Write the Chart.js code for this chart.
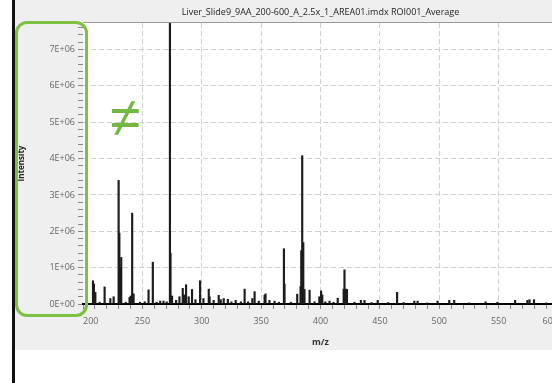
<!DOCTYPE html>
<html>
<head>
<meta charset="utf-8">
<script src="https://cdn.jsdelivr.net/npm/chart.js@4"></script>
<style>
  html, body { margin: 0; padding: 0; overflow: hidden; background: #ffffff; width: 552px; height: 383px; }
  #panel { position: absolute; left: 15px; top: 0; width: 560px; height: 350px; background: #efefef; }
  #edge { position: absolute; left: 12px; top: 0; width: 3px; height: 383px; background: #111; }
  #wrap { position: absolute; left: 0; top: 0; width: 575px; height: 350px; }
  #box { position: absolute; left: 15px; top: 21px; width: 73px; height: 296px; box-sizing: border-box;
         border: 3px solid #7dc142; border-radius: 12px; }
  #neq { position: absolute; left: 110px; top: 87px; font-family: 'Liberation Sans', sans-serif; font-size: 55px;
         line-height: 60px; color: #72b843; }
</style>
</head>
<body>
<div id="panel"></div>
<div id="edge"></div>
<div id="wrap"><canvas id="c"></canvas></div>
<div id="box"></div>
<div id="neq">≠</div>
<script>
const chartTitle = 'Liver_Slide9_9AA_200-600_A_2.5x_1_AREA01.imdx ROI001_Average';
const xTitle = 'm/z';
const yTitle = 'Intensity';

// peak m/z positions
const peakMz = [
  208.4, 209.2, 210.4, 214.0, 218.2, 223.0, 225.8, 230.0, 230.6, 231.2, 232.2, 236.0,
  239.2, 240.2, 241.4, 242.6, 248.0, 252.0, 255.2, 258.8, 262.0, 265.0, 267.8, 270.5,
  273.2, 273.7, 275.0, 278.4, 281.2, 284.0, 285.0, 286.8, 289.0, 291.8, 294.7, 298.6,
  301.4, 305.9, 306.6, 310.0, 314.3, 316.0, 318.5, 322.0, 325.0, 328.6, 333.0, 336.1,
  339.0, 342.6, 344.5, 348.0, 352.9, 353.7, 357.0, 361.3, 365.0, 369.2, 369.7, 375.0,
  380.4, 383.2, 383.8, 384.6, 385.5, 386.5, 390.8, 395.0, 399.0, 400.5, 401.5, 404.0,
  407.6, 411.0, 414.5, 419.5, 420.2, 421.5, 422.3, 428.6, 434.0, 437.0, 443.0, 448.2,
  457.0, 464.5, 470.0, 479.0, 481.8, 490.0, 498.6, 508.4, 512.6, 525.0, 539.0, 549.0,
  563.9, 574.2, 576.0, 579.8, 590.0
];
// peak intensities (millions)
const peakIntensityM = [
  0.64, 0.55, 0.32, 0.05, 0.47, 0.15, 0.20, 3.40, 1.95, 1.00, 1.28, 0.05,
  0.18, 0.22, 2.50, 0.28, 0.05, 0.06, 0.39, 1.15, 0.05, 0.08, 0.08, 0.06,
  9.00, 1.40, 0.22, 0.10, 0.20, 0.43, 0.25, 0.53, 0.20, 0.40, 0.12, 0.64,
  0.15, 0.41, 0.20, 0.10, 0.24, 0.12, 0.15, 0.13, 0.06, 0.10, 0.06, 0.41,
  0.06, 0.15, 0.34, 0.08, 0.24, 0.28, 0.10, 0.08, 0.05, 1.52, 0.55, 0.05,
  0.27, 0.48, 1.47, 4.08, 1.69, 0.40, 0.38, 0.06, 0.20, 0.36, 0.25, 0.06,
  0.08, 0.05, 0.16, 0.41, 0.94, 0.41, 0.40, 0.05, 0.10, 0.10, 0.04, 0.10,
  0.04, 0.32, 0.04, 0.08, 0.08, 0.03, 0.08, 0.10, 0.10, 0.03, 0.06, 0.05,
  0.10, 0.10, 0.12, 0.12, 0.03
];

// axis ranges and tick spacing (minor ticks, labelled every Nth)
const xMin = 200, xMax = 600, xStep = 10, xLabelEvery = 5;
const yMin = 0, yMax = 7.73e6, yStep = 2e5, yLabelEvery = 5;

const xTickValues = [];
for (let k = 0; xMin + k * xStep <= xMax; k++) xTickValues.push(xMin + k * xStep);
const yTickValues = [];
for (let k = 0; yMin + k * yStep <= yMax; k++) yTickValues.push(yMin + k * yStep);

const points = peakMz.map((x, i) => ({ x: x, y: peakIntensityM[i] * 1e6 }));

const plotBg = {
  id: 'plotBg',
  beforeDraw(chart) {
    const { ctx, chartArea: a } = chart;
    ctx.save();
    ctx.fillStyle = '#ffffff';
    ctx.fillRect(a.left, a.top, a.right - a.left, a.bottom - a.top);
    ctx.strokeStyle = '#9a9a9a';
    ctx.lineWidth = 1;
    ctx.beginPath();
    ctx.moveTo(a.left, a.top - 0.5);
    ctx.lineTo(chart.width, a.top - 0.5);
    ctx.stroke();
    ctx.restore();
  }
};

const tickIndex = (ctx, vals) => ctx.tick ? vals.indexOf(ctx.tick.value) : -1;

Chart.defaults.font.family = "'Open Sans', 'Noto Sans', sans-serif";

new Chart(document.getElementById('c'), {
  type: 'bar',
  data: {
    datasets: [{
      data: points,
      backgroundColor: '#1c1c1c',
      borderWidth: 0,
      barThickness: 1.5
    }]
  },
  options: {
    responsive: true,
    maintainAspectRatio: false,
    animation: false,
    layout: { padding: { left: 0, right: 17, top: 0, bottom: 0 } },
    plugins: {
      legend: { display: false },
      tooltip: { enabled: false },
      title: {
        display: true,
        text: chartTitle,
        fullSize: false,
        color: '#222',
        font: { size: 9, weight: 'normal', lineHeight: 1.2 },
        padding: { top: 7, bottom: 5.2 }
      }
    },
    scales: {
      x: {
        type: 'linear',
        offset: false,
        min: xMin, max: xMax,
        afterFit(s) { s.height = 46; },
        afterBuildTicks(s) { s.ticks = xTickValues.map(v => ({ value: v })); },
        ticks: {
          autoSkip: false,
          maxRotation: 0,
          align: 'inner',
          color: '#666',
          padding: 7,
          font: { size: 9 },
          callback: (v, i) => (i % xLabelEvery === 0) ? String(xTickValues[i]) : ''
        },
        grid: {
          offset: false,
          color: c => { const i = tickIndex(c, xTickValues); return (i > 0 && i % xLabelEvery === 0) ? '#d0d0d0' : 'rgba(0,0,0,0)'; },
          tickColor: '#888',
          tickLength: 5,
          lineWidth: 1
        },
        border: { display: true, color: '#000', width: 2, dash: [5, 3] },
        title: {
          display: true,
          text: xTitle,
          color: '#333',
          font: { size: 9, weight: 'bold', lineHeight: 1.2 },
          padding: { top: 0, bottom: 2 }
        }
      },
      y: {
        min: yMin, max: yMax,
        afterFit(s) { s.width = 83; },
        afterBuildTicks(s) { s.ticks = yTickValues.map(v => ({ value: v })); },
        ticks: {
          autoSkip: false,
          color: '#666',
          padding: 3,
          font: { size: 9 },
          callback: (v, i) => {
            if (i % yLabelEvery !== 0) return '';
            const n = Math.round(yTickValues[i] / 1e6);
            return n === 0 ? '0E+00' : n + 'E+06';
          }
        },
        grid: {
          color: c => { const i = tickIndex(c, yTickValues); return (i > 0 && i % yLabelEvery === 0) ? '#d0d0d0' : 'rgba(0,0,0,0)'; },
          tickColor: '#888',
          tickLength: 5,
          lineWidth: 1
        },
        border: { display: false, dash: [5, 3] },
        title: {
          display: true,
          text: yTitle,
          color: '#222',
          font: { size: 8, weight: 'bold', lineHeight: 1.2 },
          padding: { top: 17, bottom: 0 }
        }
      }
    }
  },
  plugins: [plotBg]
});
</script>
</body>
</html>
